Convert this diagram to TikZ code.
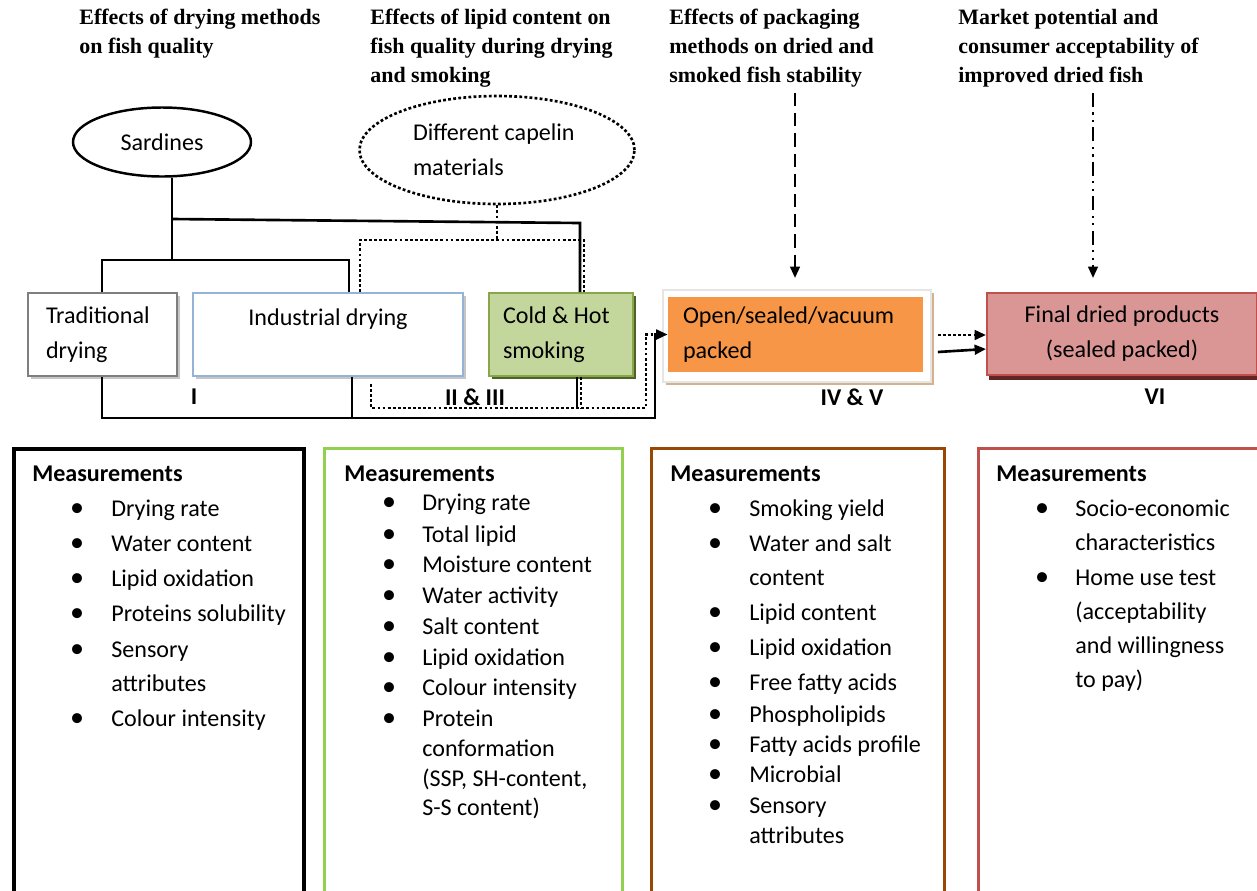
\documentclass[tikz,border=0pt]{standalone}
\usepackage{fontspec}
\setmainfont{Carlito}
\newfontfamily\headfont{Liberation Serif}
\usetikzlibrary{arrows.meta,shapes.geometric,shadows,calc}
\definecolor{tradc}{RGB}{127,127,127}
\definecolor{indc}{RGB}{149,179,215}
\definecolor{smkc}{RGB}{195,214,155}
\definecolor{smkd}{RGB}{137,166,72}
\definecolor{smks}{RGB}{79,98,40}
\definecolor{pakc}{RGB}{247,150,70}
\definecolor{paks}{RGB}{214,178,140}
\definecolor{finc}{RGB}{217,150,148}
\definecolor{find}{RGB}{192,80,77}
\definecolor{fins}{RGB}{99,37,35}
\definecolor{grnc}{RGB}{146,208,80}
\definecolor{brnc}{RGB}{152,72,6}
\newcommand\pxu{0.02cm}
\newcommand\bodyfont{\fontsize{13.7}{20}\selectfont}
\tikzset{every node/.style={font=\bodyfont},
 head/.style={font=\headfont\bfseries\fontsize{12.5}{16.5}\selectfont,align=flush left,anchor=north west,inner sep=0pt},
 shd/.style={drop shadow={shadow xshift=1.7pt,shadow yshift=-1.7pt,fill=#1,opacity=1}},
 proc/.style={line width=1.1pt,minimum height=83*\pxu,inner sep=0pt,text width=#1,align=flush left},
 ell/.style={ellipse,inner sep=0pt},
 conn/.style={line width=1.5pt},
 dotl/.style={line width=1.5pt,dash pattern=on 1.6pt off 1.3pt},
 dashl/.style={line width=1.3pt,dash pattern=on 7.5pt off 4pt},
 ddl/.style={line width=1.3pt,dash pattern=on 8pt off 3pt on 1.3pt off 3pt on 1.3pt off 3pt},
 arr/.style={-{Triangle[length=6.5pt,width=5.5pt]}},
 lab/.style={font=\bodyfont\bfseries,inner sep=0pt},
 fr/.style={line width=1.7pt},
 item/.style={anchor=base west,inner sep=0pt},
 ttl/.style={item,font=\bodyfont\bfseries},
 bul/.style={anchor=base,inner sep=0pt,font=\fontsize{16}{16}\selectfont}}
\begin{document}
\begin{tikzpicture}[x=0.02cm,y=-0.02cm]
\useasboundingbox (0,0) rectangle (1257,890);
% study headings
\node[head] (h1) at (79,9) {Effects of drying methods\\on fish quality};
\node[head] (h2) at (370,9) {Effects of lipid content on\\fish quality during drying\\and smoking};
\node[head] (h3) at (669,9) {Effects of packaging\\methods on dried and\\smoked fish stability};
\node[head] (h4) at (958,9) {Market potential and\\consumer acceptability of\\improved dried fish};
% raw materials
\node[ell,draw,line width=1.4pt,minimum width=178*\pxu,minimum height=69*\pxu] (sard) at (162,142) {Sardines};
\node[ell,dotl,draw,minimum width=275*\pxu,minimum height=108*\pxu,text width=168*\pxu,align=flush left] (cap) at (497,150) {Different capelin\\materials};
% processing
\node[proc=113*\pxu,draw=tradc,fill=white,shd=gray!45,minimum width=149*\pxu] (trad) at (102.5,334.5) {Traditional\\drying};
\node[proc=250*\pxu,draw=indc,fill=white,shd=gray!45,minimum width=270*\pxu,align=flush center] (ind) at (328,334.5) {Industrial drying\\\mbox{}};
\node[proc=116*\pxu,draw=smkd,fill=smkc,shd=smks,minimum width=144*\pxu] (smk) at (561,334.5) {Cold \& Hot\\smoking};
\node[draw=gray!20,line width=1pt,fill=white,shd=paks,minimum width=268*\pxu,minimum height=92*\pxu] (pack) at (797,336) {};
\node[fill=pakc,inner sep=0pt,minimum width=255*\pxu,minimum height=75*\pxu,text width=225*\pxu,align=flush left] (packin) at (795.5,334.5) {Open/sealed/vacuum\\packed};
\node[draw=find,line width=1.1pt,fill=finc,drop shadow={shadow xshift=1.2pt,shadow yshift=-2.6pt,fill=fins,opacity=1},minimum width=270*\pxu,minimum height=82*\pxu,align=flush center] (fin) at (1122,334) {Final dried products\\(sealed packed)};
% study numbers
\node[lab] (l1) at (194,397) {I};
\node[lab] (l2) at (475,397) {II \& III};
\node[lab] (l3) at (852,397) {IV \& V};
\node[lab] (l4) at (1155,397) {VI};
% solid links
\coordinate (cA) at (172,219);
\coordinate (cB) at (580,223);
\coordinate (cC) at (102,260);
\coordinate (cD) at (349,260);
\coordinate (cE) at (102,418);
\coordinate (cF) at (655,418);
\coordinate (cG) at (352,418);
\coordinate (cH) at (577,408);
\draw[conn] (sard.south -| cA) -- (cA |- cC);
\draw[conn] (cA) -- (cB) -- (cB |- smk.north);
\draw[conn] (cC |- trad.north) -- (cC) -- (cD) -- (cD |- ind.north);
\draw[conn,arr] (cE |- trad.south) -- (cE) -- (cF) -- (cF |- packin.west) -- (packin.west);
\draw[conn] (cG |- ind.south) -- (cG);
\draw[conn] (cH |- smk.south) -- (cH);
% dotted links
\coordinate (dA) at (499,240);
\coordinate (dB) at (360,240);
\coordinate (dC) at (584,240);
\coordinate (dD) at (371,408);
\coordinate (dE) at (646,408);
\coordinate (dF) at (581,408);
\draw[dotl] (cap.south) -- (cap.south |- dA);
\draw[dotl] (dB |- ind.north) -- (dB) -- (dC) -- (dC |- smk.north);
\draw[dotl] ($(dD |- ind.south)+(0,7)$) -- (dD) -- (dE) -- (dE |- packin.west) -- (cF |- packin.west);
\draw[dotl] (dF |- smk.south) -- (dF);
\draw[dotl,arr] ($(pack.east)+(6,-1)$) -- ($(fin.west)+(0,1)$);
\draw[conn,arr] ($(pack.east)+(6,16)$) -- ($(fin.west)+(0,15)$);
% heading arrows
\coordinate (aA) at (795,93);
\coordinate (aB) at (795,278);
\coordinate (aC) at (1093,93);
\coordinate (aD) at (1093,278);
\draw[dashl,arr] (aA) -- (aB);
\draw[ddl,arr] (aC) -- (aD);
% measurement boxes
\draw[fr,line width=2.3pt] (14,449) rectangle (304,900);
\draw[fr,draw=grnc] (324.5,448.5) rectangle (622.5,900);
\draw[fr,draw=brnc] (651,448.5) rectangle (944,900);
\draw[fr,draw=find] (978,448.5) rectangle (1270,900);
\node[ttl] (t1) at (32,481) {Measurements};
\node[ttl] (t2) at (344,481) {Measurements};
\node[ttl] (t3) at (670,481) {Measurements};
\node[ttl] (t4) at (996,481) {Measurements};
\foreach \y/\t [count=\i] in {516/Drying rate,551/Water content,586/Lipid oxidation,621/Proteins solubility,657/Sensory,691/attributes,726/Colour intensity}
 \node[item] (a\i) at (111,\y) {\t};
\foreach \y in {516,551,586,621,657,726}
 \node[bul] (ba\y) at (77,\y) {•};
\foreach \y/\t [count=\i] in {510/Drying rate,542/Total lipid,572/Moisture content,603/Water activity,634/Salt content,665/Lipid oxidation,695/Colour intensity,726/Protein,756/conformation,786/{(SSP, SH-content,},815/S-S content)}
 \node[item] (b\i) at (422,\y) {\t};
\foreach \y in {510,542,572,603,634,665,695,726}
 \node[bul] (bb\y) at (389,\y) {•};
\foreach \y/\t [count=\i] in {516/Smoking yield,551/Water and salt,585/content,620/Lipid content,655/Lipid oxidation,690/Free fatty acids,722/Phospholipids,752/Fatty acids profile,782/Microbial,813/Sensory,843/attributes}
 \node[item] (c\i) at (749,\y) {\t};
\foreach \y in {516,551,620,655,690,722,752,782,813}
 \node[bul] (bc\y) at (715,\y) {•};
\foreach \y/\t [count=\i] in {516/Socio-economic,550/characteristics,585/Home use test,619/(acceptability,653/and willingness,687/to pay)}
 \node[item] (d\i) at (1075,\y) {\t};
\foreach \y in {516,585}
 \node[bul] (bd\y) at (1042,\y) {•};
\end{tikzpicture}
\end{document}
